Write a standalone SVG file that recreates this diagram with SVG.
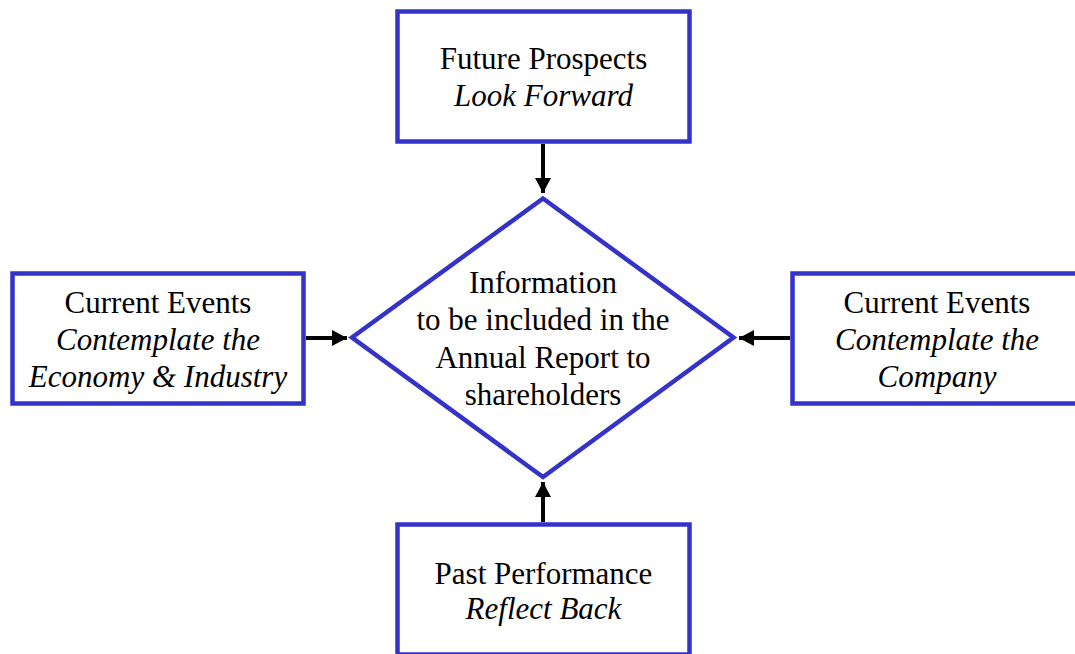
<svg xmlns="http://www.w3.org/2000/svg" width="1075" height="654" viewBox="0 0 1075 654">
<defs>
<style>
.box{fill:#fff;stroke:#3333CC;stroke-width:4.5}
.t{font-family:"Liberation Serif","Times New Roman",serif;font-size:31px;fill:#000;text-anchor:middle}
.i{font-style:italic}
.c{stroke:#000;stroke-width:4;fill:none}
</style>
<marker id="ah" markerWidth="16" markerHeight="16" viewBox="0 0 16 16" refX="15" refY="8" orient="auto" markerUnits="userSpaceOnUse">
<path d="M0,0 L15,8 L0,16 Z" fill="#000"/>
</marker>
</defs>
<rect width="1075" height="654" fill="#fff"/>
<g id="center">
<polygon class="box" points="543,198.5 733.5,337.5 543,477 352,337.5"/>
<text class="t" x="543" y="293">Information</text>
<text class="t" x="543" y="330">to be included in the</text>
<text class="t" x="543" y="368">Annual Report to</text>
<text class="t" x="543" y="405">shareholders</text>
</g>
<g id="future">
<rect class="box" x="397.5" y="11.5" width="292" height="130"/>
<text class="t" x="543.5" y="69">Future Prospects</text>
<text class="t i" x="543.5" y="106">Look Forward</text>
</g>
<g id="economy">
<rect class="box" x="12.5" y="273.5" width="291" height="130"/>
<text class="t" x="158" y="313">Current Events</text>
<text class="t i" x="158" y="350">Contemplate the</text>
<text class="t i" x="158" y="387">Economy &amp; Industry</text>
</g>
<g id="company">
<rect class="box" x="792.5" y="273.5" width="291" height="130"/>
<text class="t" x="937" y="313">Current Events</text>
<text class="t i" x="937" y="350">Contemplate the</text>
<text class="t i" x="937" y="387">Company</text>
</g>
<g id="past">
<rect class="box" x="397.5" y="524.5" width="292" height="130"/>
<text class="t" x="543.5" y="584">Past Performance</text>
<text class="t i" x="543.5" y="619">Reflect Back</text>
</g>
<g id="connectors">
<line class="c" x1="543" y1="144" x2="543" y2="193" marker-end="url(#ah)"/>
<line class="c" x1="306" y1="338" x2="347" y2="338" marker-end="url(#ah)"/>
<line class="c" x1="790" y1="338" x2="739" y2="338" marker-end="url(#ah)"/>
<line class="c" x1="543" y1="522" x2="543" y2="482" marker-end="url(#ah)"/>
</g>
</svg>
